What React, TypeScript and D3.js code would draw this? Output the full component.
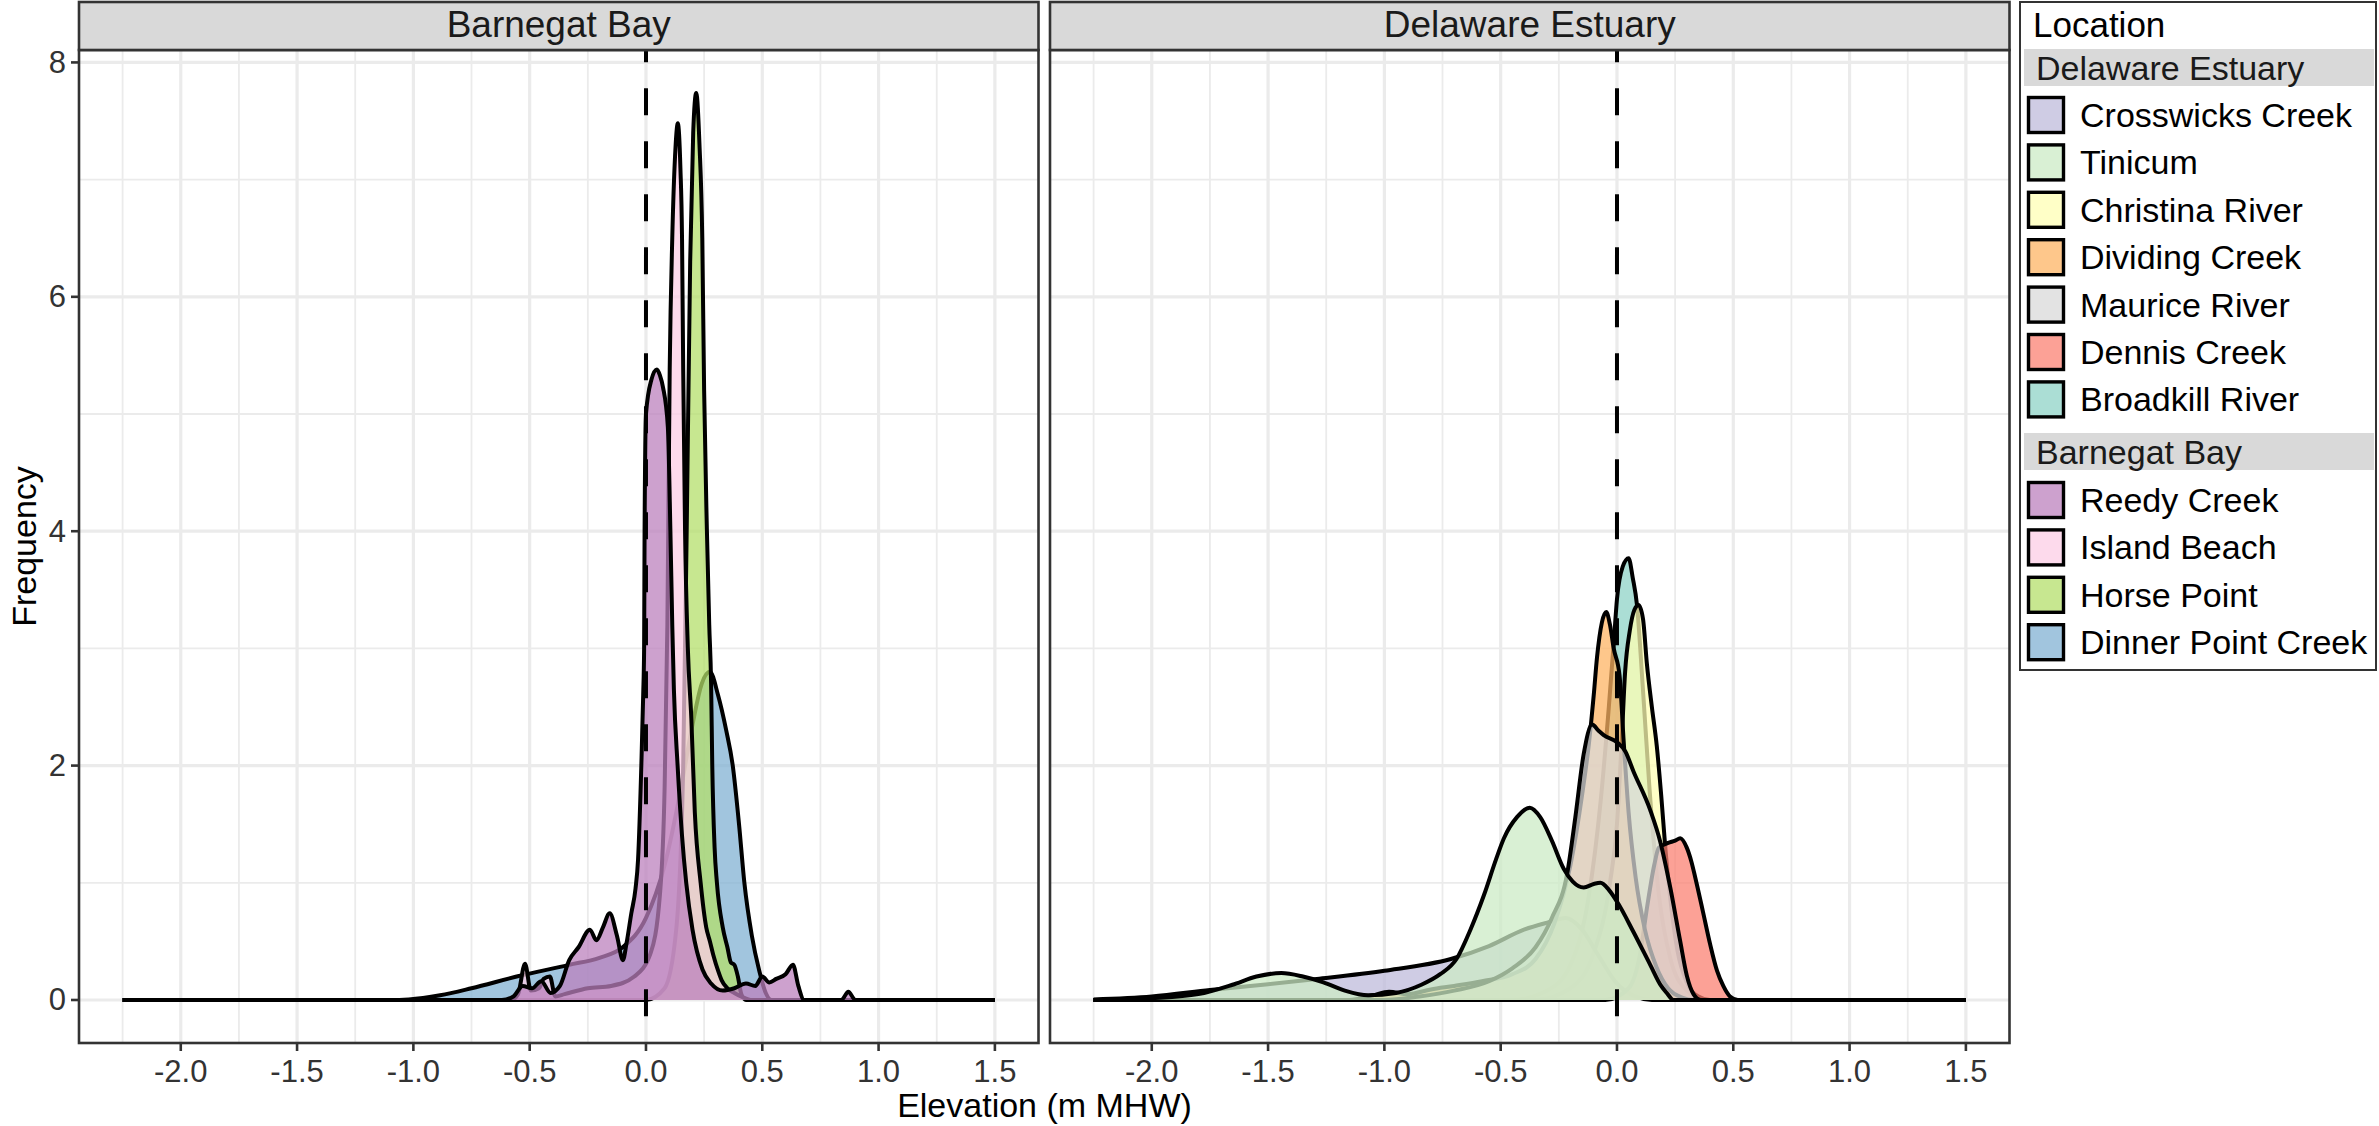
import React, { useEffect } from "react";
import * as d3 from "d3";

type Pt = [number, number];

// Kernel density of marsh surface elevation (x: m relative to MHW, y: density)
// Barnegat Bay sites
const dinnerPointCreek: Pt[] = [
  [-2.25, 0], [-1.1, 0], [-1.02, 0.005], [-0.885, 0.04], [-0.75, 0.1], [-0.556, 0.2],
  [-0.33, 0.3], [-0.2, 0.36], [-0.1, 0.45], [0.0, 0.7], [0.08, 1.15], [0.15, 1.8],
  [0.2, 2.35], [0.24, 2.7], [0.275, 2.8], [0.31, 2.6], [0.345, 2.3], [0.373, 2.0],
  [0.4, 1.5], [0.423, 1.0], [0.455, 0.55], [0.487, 0.25], [0.515, 0.06], [0.54, 0], [1.5, 0],
];
const horsePoint: Pt[] = [
  [-2.25, 0], [0.0, 0], [0.08, 0.1], [0.13, 0.6], [0.16, 2.0], [0.175, 4.0], [0.19, 6.3],
  [0.203, 7.4], [0.216, 7.74], [0.23, 7.3], [0.242, 6.5], [0.25, 5.2], [0.262, 4.0],
  [0.272, 3.2], [0.28, 2.7], [0.285, 2.0], [0.295, 1.3], [0.305, 1.0], [0.33, 0.62],
  [0.35, 0.45], [0.365, 0.32], [0.38, 0.3], [0.395, 0.2], [0.41, 0.05], [0.43, 0], [1.5, 0],
];
const islandBeach: Pt[] = [
  [-2.25, 0], [-0.58, 0], [-0.55, 0.05], [-0.52, 0.31], [-0.495, 0.08], [-0.46, 0.1],
  [-0.44, 0.18], [-0.413, 0.2], [-0.39, 0.03], [-0.35, 0.05], [-0.25, 0.1], [-0.15, 0.12],
  [-0.05, 0.2], [0.02, 0.4], [0.06, 0.9], [0.08, 1.8], [0.092, 3.2], [0.102, 5.38],
  [0.113, 6.5], [0.125, 7.2], [0.137, 7.48], [0.148, 7.1], [0.155, 6.5], [0.16, 5.38],
  [0.168, 4.0], [0.18, 3.0], [0.195, 2.4], [0.21, 1.6], [0.235, 1.0], [0.259, 0.62],
  [0.275, 0.5], [0.29, 0.38], [0.31, 0.25], [0.325, 0.17], [0.35, 0.1], [0.38, 0.06],
  [0.42, 0.02], [0.45, 0], [1.5, 0],
];
const reedyCreek: Pt[] = [
  [-2.25, 0], [-0.62, 0], [-0.57, 0.03], [-0.53, 0.12], [-0.49, 0.1], [-0.45, 0.16],
  [-0.41, 0.06], [-0.37, 0.12], [-0.33, 0.34], [-0.29, 0.45], [-0.241, 0.6], [-0.213, 0.51],
  [-0.185, 0.62], [-0.156, 0.74], [-0.125, 0.55], [-0.099, 0.34], [-0.084, 0.48],
  [-0.063, 0.74], [-0.045, 0.95], [-0.034, 1.2], [-0.02, 2.0], [-0.012, 2.6], [-0.008, 3.0],
  [-0.006, 4.0], [0.0, 5.0], [0.023, 5.29], [0.047, 5.38], [0.06, 5.33], [0.073, 5.23],
  [0.094, 4.89], [0.105, 4.0], [0.113, 3.2], [0.12, 2.65], [0.136, 2.0], [0.155, 1.4],
  [0.173, 1.0], [0.2, 0.6], [0.243, 0.26], [0.28, 0.14], [0.33, 0.08], [0.38, 0.1],
  [0.43, 0.14], [0.47, 0.12], [0.5, 0.2], [0.53, 0.15], [0.56, 0.18], [0.6, 0.22],
  [0.632, 0.3], [0.655, 0.12], [0.68, 0], [0.84, 0], [0.87, 0.07], [0.9, 0], [1.5, 0],
];

// Delaware Estuary sites
const broadkillRiver: Pt[] = [
  [-2.25, 0], [-0.45, 0], [-0.3, 0.08], [-0.2, 0.3], [-0.12, 0.9], [-0.07, 1.7],
  [-0.035, 2.5], [-0.012, 3.1], [0.0, 3.42], [0.025, 3.7], [0.05, 3.77], [0.068, 3.6],
  [0.086, 3.37], [0.11, 2.7], [0.14, 1.8], [0.18, 0.9], [0.23, 0.35], [0.3, 0.08],
  [0.38, 0], [1.5, 0],
];
const christinaRiver: Pt[] = [
  [-2.25, 0], [-0.35, 0], [-0.2, 0.1], [-0.1, 0.4], [-0.03, 1.0], [0.0, 1.5], [0.02, 2.2],
  [0.035, 2.8], [0.055, 3.15], [0.075, 3.33], [0.093, 3.37], [0.112, 3.25], [0.129, 2.86],
  [0.15, 2.5], [0.171, 2.17], [0.19, 1.75], [0.207, 1.32], [0.23, 0.85], [0.26, 0.42],
  [0.3, 0.15], [0.35, 0.03], [0.4, 0], [1.5, 0],
];
const crosswicksCreek: Pt[] = [
  [-2.25, 0.005], [-2.0, 0.03], [-1.75, 0.085], [-1.5, 0.135], [-1.29, 0.18], [-1.0, 0.25],
  [-0.714, 0.35], [-0.55, 0.46], [-0.4, 0.6], [-0.3, 0.66], [-0.22, 0.7], [-0.15, 0.6],
  [-0.08, 0.38], [0.0, 0.14], [0.08, 0.03], [0.15, 0], [1.5, 0],
];
const dennisCreek: Pt[] = [
  [-2.25, 0], [-0.05, 0], [0.05, 0.1], [0.1, 0.4], [0.13, 0.8], [0.16, 1.15], [0.18, 1.3],
  [0.22, 1.34], [0.25, 1.36], [0.272, 1.38], [0.3, 1.3], [0.32, 1.18], [0.336, 1.05],
  [0.37, 0.75], [0.4, 0.48], [0.43, 0.25], [0.457, 0.12], [0.486, 0.03], [0.52, 0], [1.5, 0],
];
const dividingCreek: Pt[] = [
  [-2.25, 0], [-1.15, 0], [-1.05, 0.04], [-0.98, 0.07], [-0.9, 0.05], [-0.8, 0.09],
  [-0.7, 0.12], [-0.58, 0.16], [-0.45, 0.22], [-0.35, 0.35], [-0.27, 0.65], [-0.2, 1.15],
  [-0.15, 1.75], [-0.12, 2.2], [-0.1, 2.6], [-0.086, 2.92], [-0.065, 3.22], [-0.046, 3.31],
  [-0.03, 3.2], [-0.014, 3.0], [0.011, 2.77], [0.029, 2.2], [0.05, 1.6], [0.08, 1.05],
  [0.12, 0.6], [0.17, 0.28], [0.22, 0.1], [0.28, 0.02], [0.33, 0], [1.5, 0],
];
const mauriceRiver: Pt[] = [
  [-2.25, 0], [-1.0, 0], [-0.85, 0.03], [-0.7, 0.08], [-0.55, 0.16], [-0.45, 0.27],
  [-0.35, 0.45], [-0.28, 0.7], [-0.214, 1.08], [-0.179, 1.56], [-0.143, 2.1], [-0.107, 2.35],
  [-0.08, 2.3], [-0.057, 2.26], [0.0, 2.2], [0.036, 2.12], [0.071, 1.95], [0.143, 1.62],
  [0.186, 1.35], [0.229, 0.96], [0.271, 0.51], [0.3, 0.21], [0.329, 0.05], [0.36, 0], [1.5, 0],
];
const tinicum: Pt[] = [
  [-2.25, 0], [-2.0, 0.015], [-1.8, 0.05], [-1.653, 0.13], [-1.55, 0.2], [-1.443, 0.23],
  [-1.35, 0.2], [-1.262, 0.15], [-1.17, 0.08], [-1.07, 0.04], [-0.95, 0.06], [-0.841, 0.13],
  [-0.76, 0.22], [-0.69, 0.35], [-0.63, 0.6], [-0.571, 0.9], [-0.52, 1.2], [-0.486, 1.38],
  [-0.43, 1.56], [-0.375, 1.64], [-0.33, 1.56], [-0.28, 1.36], [-0.229, 1.12], [-0.19, 1.01],
  [-0.143, 0.96], [-0.1, 0.99], [-0.071, 1.0], [-0.035, 0.94], [0.0, 0.84], [0.071, 0.58],
  [0.143, 0.3], [0.19, 0.12], [0.214, 0.06], [0.243, 0], [1.5, 0],
];

// Locations in factor (drawing) order, with the facet each belongs to
const locations = [
  "Broadkill River", "Christina River", "Crosswicks Creek", "Dennis Creek",
  "Dinner Point Creek", "Dividing Creek", "Horse Point", "Island Beach",
  "Maurice River", "Reedy Creek", "Tinicum",
];
const locationRegion = [
  "Delaware Estuary", "Delaware Estuary", "Delaware Estuary", "Delaware Estuary",
  "Barnegat Bay", "Delaware Estuary", "Barnegat Bay", "Barnegat Bay",
  "Delaware Estuary", "Barnegat Bay", "Delaware Estuary",
];
const locationDensity = [
  broadkillRiver, christinaRiver, crosswicksCreek, dennisCreek,
  dinnerPointCreek, dividingCreek, horsePoint, islandBeach,
  mauriceRiver, reedyCreek, tinicum,
];

const regions = ["Barnegat Bay", "Delaware Estuary"];

// Legend listing, grouped by estuary
const delawareLegend = [
  "Crosswicks Creek", "Tinicum", "Christina River", "Dividing Creek",
  "Maurice River", "Dennis Creek", "Broadkill River",
];
const barnegatLegend = ["Reedy Creek", "Island Beach", "Horse Point", "Dinner Point Creek"];

const xMajor = [-2, -1.5, -1, -0.5, 0, 0.5, 1, 1.5];
const xMinor = [-2.25, -1.75, -1.25, -0.75, -0.25, 0.25, 0.75, 1.25];
const yMajor = [0, 2, 4, 6, 8];
const yMinor = [1, 3, 5, 7];

const W = 2379;
const H = 1126;
const FONT = "'Liberation Sans', Arial, Helvetica, sans-serif";
const panelTop = 50;
const panelBottom = 1043;
const stripTop = 2;
const panelWidth = 959.5;
const panelLefts = [79, 1050];
const fillAlpha = 0.74;
const outlineWidth = 4;

const colour = d3.scaleOrdinal<string, string>(locations, d3.schemeSet3);

const yScale = d3.scaleLinear().domain([-0.367, 8.106]).range([panelBottom, panelTop]);

function Panel({ region, left }: { region: string; left: number }) {
  const x = d3.scaleLinear().domain([-2.4375, 1.6875]).range([left, left + panelWidth]);
  const area = d3
    .area<Pt>()
    .x((d) => x(d[0]))
    .y0(yScale(0))
    .y1((d) => yScale(d[1]))
    .curve(d3.curveMonotoneX);
  const line = d3
    .line<Pt>()
    .x((d) => x(d[0]))
    .y((d) => yScale(d[1]))
    .curve(d3.curveMonotoneX);
  const clipId = `clip-${region.replace(/\s+/g, "-")}`;
  const right = left + panelWidth;
  return (
    <g>
      <defs>
        <clipPath id={clipId}>
          <rect x={left} y={panelTop} width={panelWidth} height={panelBottom - panelTop} />
        </clipPath>
      </defs>
      <rect x={left} y={panelTop} width={panelWidth} height={panelBottom - panelTop} fill="#fff" />
      {yMinor.map((v) => (
        <line key={`ym${v}`} x1={left} x2={right} y1={yScale(v)} y2={yScale(v)} stroke="#EBEBEB" strokeWidth={1.8} />
      ))}
      {xMinor.map((v) => (
        <line key={`xm${v}`} x1={x(v)} x2={x(v)} y1={panelTop} y2={panelBottom} stroke="#EBEBEB" strokeWidth={1.8} />
      ))}
      {yMajor.map((v) => (
        <line key={`yM${v}`} x1={left} x2={right} y1={yScale(v)} y2={yScale(v)} stroke="#EBEBEB" strokeWidth={3.2} />
      ))}
      {xMajor.map((v) => (
        <line key={`xM${v}`} x1={x(v)} x2={x(v)} y1={panelTop} y2={panelBottom} stroke="#EBEBEB" strokeWidth={3.2} />
      ))}
      <g clipPath={`url(#${clipId})`}>
        {locations.map((loc, i) =>
          locationRegion[i] === region ? (
            <g key={loc}>
              <path d={area(locationDensity[i]) ?? ""} fill={colour(loc)} fillOpacity={fillAlpha} stroke="none" />
              <path
                d={line(locationDensity[i]) ?? ""}
                fill="none"
                stroke="#000"
                strokeWidth={outlineWidth}
                strokeLinejoin="round"
              />
            </g>
          ) : null
        )}
        <line
          x1={x(0)}
          x2={x(0)}
          y1={panelTop}
          y2={panelBottom}
          stroke="#000"
          strokeWidth={4}
          strokeDasharray="27 26"
          strokeDashoffset={14.8}
        />
      </g>
      <rect
        x={left}
        y={panelTop}
        width={panelWidth}
        height={panelBottom - panelTop}
        fill="none"
        stroke="#333333"
        strokeWidth={2.6}
      />
      {/* strip */}
      <rect
        x={left}
        y={stripTop}
        width={panelWidth}
        height={panelTop - stripTop}
        fill="#D9D9D9"
        stroke="#333333"
        strokeWidth={2.6}
      />
      <text
        x={(left + right) / 2}
        y={36.5}
        textAnchor="middle"
        fontFamily={FONT}
        fontSize={37}
        fill="#1A1A1A"
      >
        {region}
      </text>
      {/* x axis */}
      {xMajor.map((v) => (
        <g key={`xt${v}`}>
          <line x1={x(v)} x2={x(v)} y1={panelBottom} y2={panelBottom + 8} stroke="#333333" strokeWidth={2.6} />
          <text
            x={x(v)}
            y={1081.5}
            textAnchor="middle"
            fontFamily={FONT}
            fontSize={31}
            fill="#333333"
          >
            {v.toFixed(1)}
          </text>
        </g>
      ))}
    </g>
  );
}

function Legend() {
  const left = 2020;
  const right = 2376;
  const keyX = 2027;
  const keySize = 38;
  const rowStep = 47.4;
  const delawareHeaderY = 49;
  const delawareRow0 = 115;
  const barnegatHeaderY = 433;
  const barnegatRow0 = 500;
  const header = (title: string, top: number) => (
    <g>
      <rect x={left + 4} y={top} width={right - left - 6} height={37} fill="#D9D9D9" />
      <text x={2036} y={top + 18.5} dominantBaseline="central" fontFamily={FONT} fontSize={34} fill="#1A1A1A">
        {title}
      </text>
    </g>
  );
  const rows = (items: string[], y0: number) =>
    items.map((loc, i) => {
      const cy = y0 + i * rowStep;
      return (
        <g key={loc}>
          <rect x={keyX} y={cy - keySize / 2} width={keySize} height={keySize} fill="#fff" />
          <rect
            x={keyX + 1.5}
            y={cy - keySize / 2 + 1.5}
            width={keySize - 3}
            height={keySize - 3}
            fill={colour(loc)}
            fillOpacity={fillAlpha}
            stroke="#000"
            strokeWidth={3.4}
          />
          <text x={2080} y={cy} dominantBaseline="central" fontFamily={FONT} fontSize={34} fill="#000">
            {loc}
          </text>
        </g>
      );
    });
  return (
    <g>
      <rect x={left} y={2} width={right - left} height={668} fill="#fff" stroke="#333333" strokeWidth={2} />
      <text x={2033} y={24.5} dominantBaseline="central" fontFamily={FONT} fontSize={35} fill="#000">
        Location
      </text>
      {header(regions[1], delawareHeaderY)}
      {rows(delawareLegend, delawareRow0)}
      {header(regions[0], barnegatHeaderY)}
      {rows(barnegatLegend, barnegatRow0)}
    </g>
  );
}

export default function App() {
  useEffect(() => {
    document.body.style.margin = "0";
    document.body.style.overflow = "hidden";
  }, []);
  return (
    <svg
      width={W}
      height={H}
      viewBox={`0 0 ${W} ${H}`}
      style={{ position: "absolute", left: 0, top: 0, background: "#fff" }}
    >
      <rect x={0} y={0} width={W} height={H} fill="#fff" />
      {regions.map((r, i) => (
        <Panel key={r} region={r} left={panelLefts[i]} />
      ))}
      {/* y axis */}
      {yMajor.map((v) => (
        <g key={`yt${v}`}>
          <line x1={71} x2={79} y1={yScale(v)} y2={yScale(v)} stroke="#333333" strokeWidth={2.6} />
          <text
            x={66}
            y={yScale(v)}
            textAnchor="end"
            dominantBaseline="central"
            fontFamily={FONT}
            fontSize={31}
            fill="#333333"
          >
            {v}
          </text>
        </g>
      ))}
      <text
        transform={`translate(24, ${(panelTop + panelBottom) / 2}) rotate(-90)`}
        textAnchor="middle"
        dominantBaseline="central"
        fontFamily={FONT}
        fontSize={34}
        fill="#000"
      >
        Frequency
      </text>
      <text x={1044.5} y={1116.5} textAnchor="middle" fontFamily={FONT} fontSize={34} fill="#000">
        Elevation (m MHW)
      </text>
      <Legend />
    </svg>
  );
}
